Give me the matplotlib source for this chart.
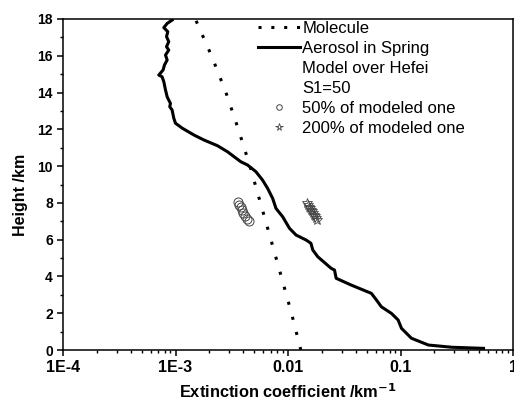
import numpy as np
import matplotlib
matplotlib.use("Agg")
import matplotlib.pyplot as plt
from matplotlib.lines import Line2D
from matplotlib.ticker import LogLocator, FixedLocator, NullFormatter, MultipleLocator

plt.rcParams['font.family'] = ['Liberation Sans', 'DejaVu Sans']

# aerosol extinction profile (km^-1), top to bottom
aer_height = [17.94, 17.76, 17.53, 17.31, 17.04, 16.77, 16.49, 16.31, 16.04, 15.77,
              15.50, 15.23, 14.95, 14.86, 14.59, 14.14, 13.77, 13.59, 13.41, 13.23,
              13.05, 12.60, 12.33, 12.06, 11.69, 11.42, 11.11, 10.78, 10.24, 10.06,
              9.70, 9.24, 8.79, 8.25, 7.70, 7.25, 6.62, 6.25, 5.98, 5.80,
              5.44, 5.07, 4.44, 4.35, 3.90, 3.53, 3.08, 2.72, 2.35, 1.99,
              1.63, 1.18, 0.64, 0.27, 0.15, 0.09]
aer_ext = [9.33e-4, 8.43e-4, 7.87e-4, 8.54e-4, 8.32e-4, 8.71e-4, 8.32e-4, 8.71e-4, 8.15e-4, 8.43e-4,
           7.98e-4, 7.76e-4, 7.10e-4, 7.60e-4, 7.87e-4, 8.15e-4, 8.43e-4, 8.71e-4, 9.02e-4, 8.89e-4,
           9.33e-4, 9.66e-4, 1.00e-3, 1.15e-3, 1.46e-3, 1.79e-3, 2.36e-3, 2.90e-3, 3.80e-3, 4.37e-3,
           5.18e-3, 5.94e-3, 6.59e-3, 7.30e-3, 7.82e-3, 8.96e-3, 1.03e-2, 1.18e-2, 1.45e-2, 1.60e-2,
           1.66e-2, 1.84e-2, 2.42e-2, 2.59e-2, 2.68e-2, 3.65e-2, 5.51e-2, 6.11e-2, 6.76e-2, 8.31e-2,
           9.53e-2, 0.102, 0.125, 0.177, 0.285, 0.547]

# molecular extinction
mol_height = [0, 2, 4, 6, 8, 10, 12, 14, 16, 18]
mol_ext = [0.0130, 0.01074, 8.71e-3, 7.05e-3, 5.69e-3, 4.59e-3, 3.62e-3, 2.81e-3, 2.09e-3, 1.50e-3]

# 50% of modeled one (circles)
half_height = [8.05, 7.90, 7.75, 7.60, 7.45, 7.30, 7.15, 7.00]
half_ext = [3.63e-3, 3.70e-3, 3.80e-3, 3.90e-3, 4.02e-3, 4.15e-3, 4.30e-3, 4.48e-3]

# 200% of modeled one (stars)
dbl_height = [8.00, 7.90, 7.80, 7.72, 7.63, 7.55, 7.45, 7.36, 7.27, 7.18, 7.08]
dbl_ext = [0.0148, 0.0151, 0.0153, 0.0157, 0.0160, 0.0163, 0.0166, 0.0170, 0.0174, 0.0178, 0.0182]

xticks = [1e-4, 1e-3, 1e-2, 1e-1, 1]
xticklabels = ['1E-4', '1E-3', '0.01', '0.1', '1']

fig = plt.figure(figsize=(5.14, 4.0), dpi=100)
ax = fig.add_axes([63/514, 50/400, 450/514, 331/400])

ax.plot(mol_ext, mol_height, color='black', lw=2.2, linestyle=(0, (1, 4.1)))
ax.plot(aer_ext, aer_height, color='black', lw=2.2)
ax.plot(half_ext, half_height, 'o', mfc='none', mec='#444444', ms=6.5, mew=0.7)
ax.plot(dbl_ext, dbl_height, '*', mfc='none', mec='#444444', ms=7, mew=0.6)

ax.set_xscale('log')
ax.set_xlim(1e-4, 1)
ax.set_ylim(0, 18)
ax.xaxis.set_major_locator(FixedLocator(xticks))
ax.set_xticklabels(xticklabels)
ax.xaxis.set_minor_locator(LogLocator(base=10, subs=np.arange(2, 10)))
ax.xaxis.set_minor_formatter(NullFormatter())
ax.yaxis.set_major_locator(MultipleLocator(2))
ax.yaxis.set_minor_locator(MultipleLocator(1))

for lab in ax.get_xticklabels():
    lab.set_fontsize(11.5)
    lab.set_fontweight('bold')
for lab in ax.get_yticklabels():
    lab.set_fontsize(10)
    lab.set_fontweight('bold')

ax.tick_params(which='major', direction='out', length=4.3, width=1.1, pad=3)
ax.tick_params(which='minor', direction='out', length=2.5, width=1.0)
ax.tick_params(top=False, right=False, which='both')
for s in ax.spines.values():
    s.set_linewidth(1.1)

ax.set_xlabel('Extinction coefficient /km$^{\\mathbf{-1}}$', fontsize=11.8, fontweight='bold', labelpad=5)
ax.set_ylabel('Height /km', fontsize=11.5, fontweight='bold')
ax.yaxis.set_label_coords(-0.078, 0.47)

handles = [
    Line2D([], [], color='black', lw=2.2, linestyle=(0, (1, 3.2))),
    Line2D([], [], color='black', lw=2.2),
    Line2D([], [], linestyle='none'),
    Line2D([], [], linestyle='none'),
    Line2D([], [], linestyle='none', marker='o', mfc='none', mec='#444444', ms=4, mew=0.7),
    Line2D([], [], linestyle='none', marker='*', mfc='none', mec='#444444', ms=5.5, mew=0.6),
]
labels = ['Molecule', 'Aerosol in Spring', 'Model over Hefei', 'S1=50',
          '50% of modeled one', '200% of modeled one']
ax.legend(handles, labels, loc='upper left', bbox_to_anchor=(258/514, 1 - 21/400),
          bbox_transform=fig.transFigure, frameon=False, fontsize=12,
          handlelength=2.5, handletextpad=0.15, labelspacing=0.3,
          borderpad=0, borderaxespad=0)

fig.savefig('out.png', dpi=100)
